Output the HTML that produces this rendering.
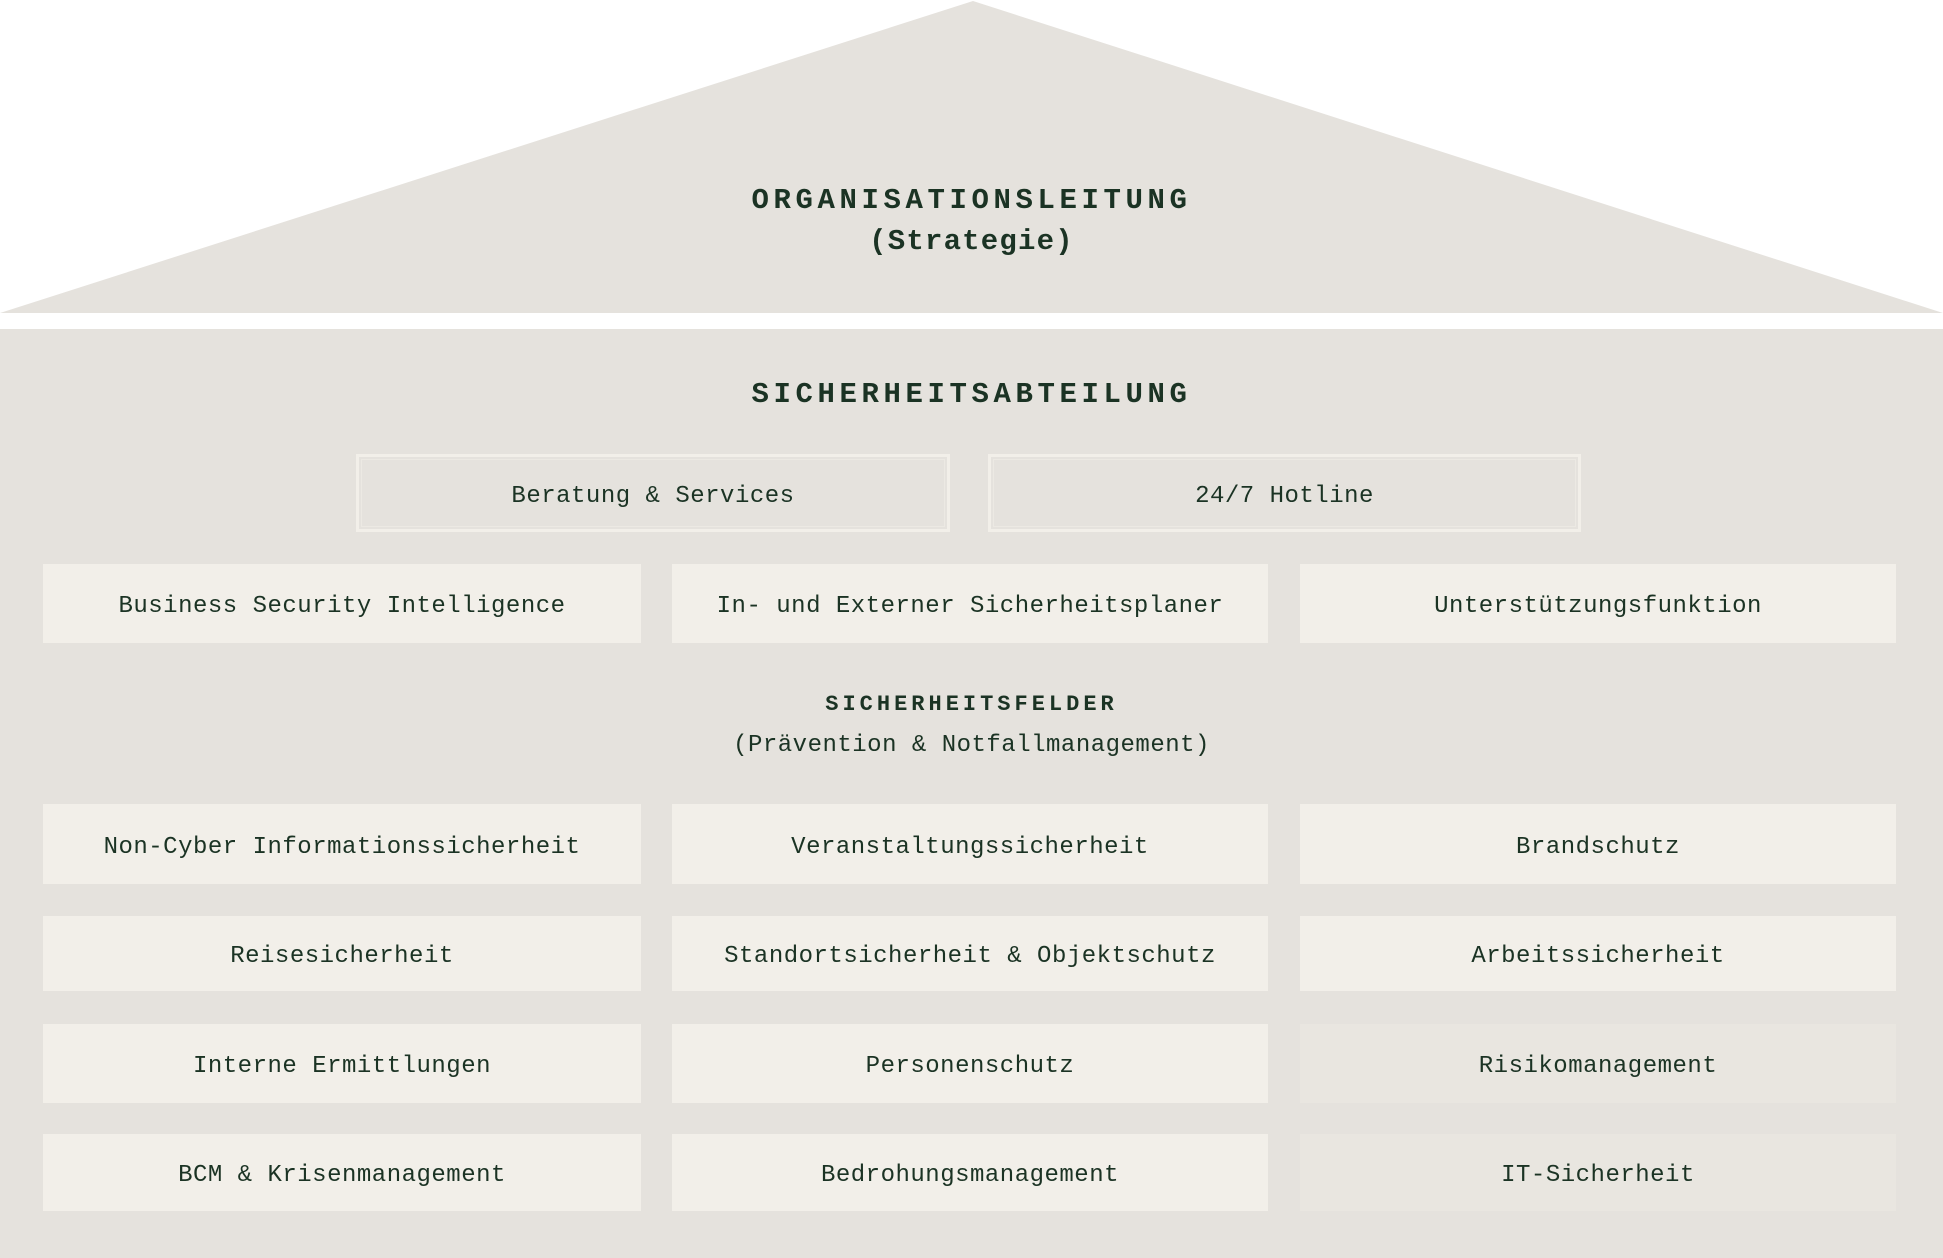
<!DOCTYPE html>
<html><head><meta charset="utf-8"><style>
html,body{margin:0;padding:0;background:#fff;}
body{width:1943px;height:1258px;position:relative;overflow:hidden;font-family:"Liberation Mono",monospace;color:#1b3324;}
.abs{position:absolute;}
.t{position:absolute;left:0;width:1943px;text-align:center;white-space:nowrap;}
.h{font-weight:bold;font-size:29px;letter-spacing:4.6px;}
.b{position:absolute;background:#f2efe9;display:flex;align-items:center;justify-content:center;font-size:24px;letter-spacing:0.5px;white-space:nowrap;padding-top:6px;box-sizing:border-box;}
.d{background:#e9e6e0;}
.o{position:absolute;box-sizing:border-box;border:3px solid #f2efe9;outline:1px solid #ece9e3;outline-offset:-6px;display:flex;align-items:center;justify-content:center;font-size:24px;letter-spacing:0.5px;padding-top:6px;}
</style></head><body>
<svg class="abs" style="left:0;top:0" width="1943" height="1258"><polygon points="0,313 973,1 1943,313" fill="#e5e2dd"/><rect x="0" y="329" width="1943" height="929" fill="#e5e2dd"/></svg>
<div class="t h" style="top:184px">ORGANISATIONSLEITUNG</div>
<div class="t" style="top:225px;font-weight:bold;font-size:29px;letter-spacing:1.2px">(Strategie)</div>
<div class="t h" style="top:378px">SICHERHEITSABTEILUNG</div>
<div class="o" style="left:356px;top:454px;width:594px;height:78px">Beratung &amp; Services</div>
<div class="o" style="left:988px;top:454px;width:593px;height:78px">24/7 Hotline</div>
<div class="b" style="left:43px;top:564px;width:598px;height:79px">Business Security Intelligence</div>
<div class="b" style="left:672px;top:564px;width:596px;height:79px">In- und Externer Sicherheitsplaner</div>
<div class="b" style="left:1300px;top:564px;width:596px;height:79px">Unterstützungsfunktion</div>
<div class="t" style="top:692px;font-weight:bold;font-size:22px;letter-spacing:4px">SICHERHEITSFELDER</div>
<div class="t" style="top:732px;font-size:24px;letter-spacing:0.5px">(Prävention &amp; Notfallmanagement)</div>
<div class="b" style="left:43px;top:804px;width:598px;height:80px">Non-Cyber Informationssicherheit</div>
<div class="b" style="left:672px;top:804px;width:596px;height:80px">Veranstaltungssicherheit</div>
<div class="b" style="left:1300px;top:804px;width:596px;height:80px">Brandschutz</div>
<div class="b" style="left:43px;top:916px;width:598px;height:75px">Reisesicherheit</div>
<div class="b" style="left:672px;top:916px;width:596px;height:75px">Standortsicherheit &amp; Objektschutz</div>
<div class="b" style="left:1300px;top:916px;width:596px;height:75px">Arbeitssicherheit</div>
<div class="b" style="left:43px;top:1024px;width:598px;height:79px">Interne Ermittlungen</div>
<div class="b" style="left:672px;top:1024px;width:596px;height:79px">Personenschutz</div>
<div class="b d" style="left:1300px;top:1024px;width:596px;height:79px">Risikomanagement</div>
<div class="b" style="left:43px;top:1134px;width:598px;height:77px">BCM &amp; Krisenmanagement</div>
<div class="b" style="left:672px;top:1134px;width:596px;height:77px">Bedrohungsmanagement</div>
<div class="b d" style="left:1300px;top:1134px;width:596px;height:77px">IT-Sicherheit</div>
</body></html>
